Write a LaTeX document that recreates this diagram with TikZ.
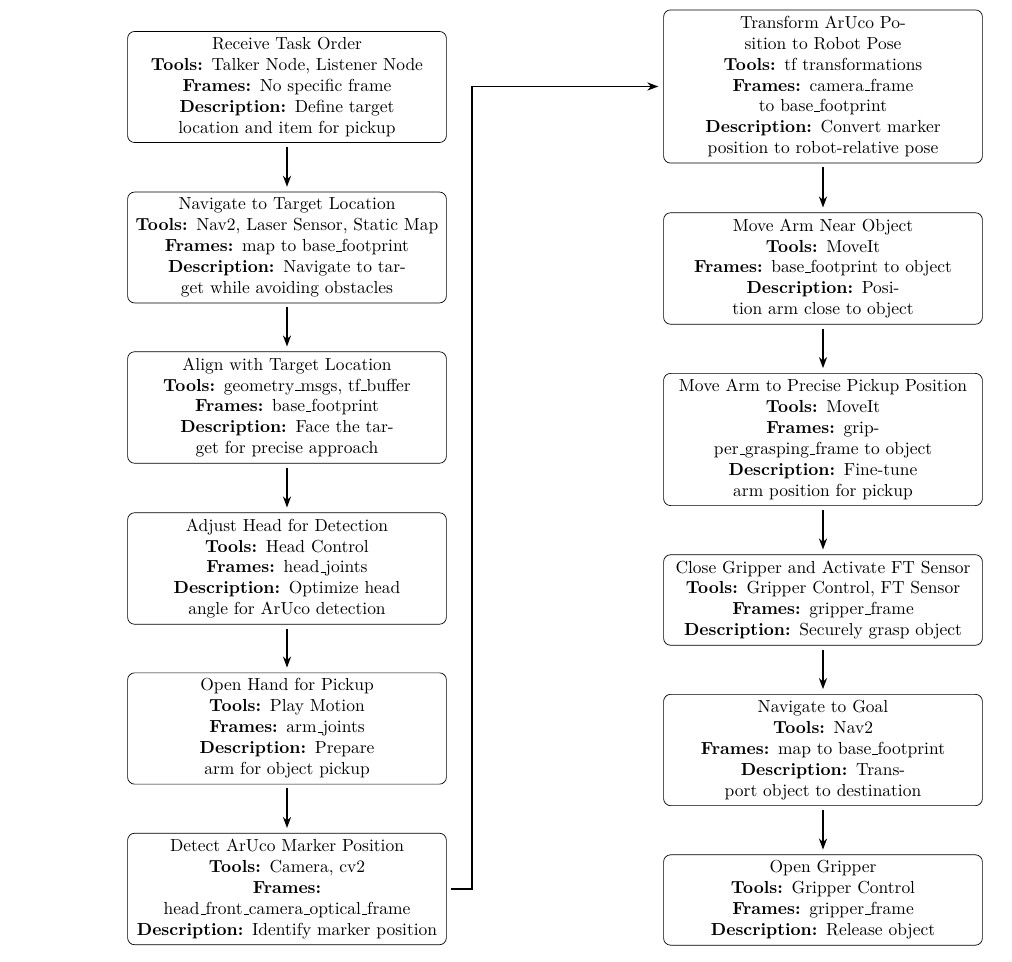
\documentclass[tikz,border=0pt]{standalone}
\usetikzlibrary{arrows.meta}
% classic low-rule underscore as in OT1 text
\newcommand{\usc}{\leavevmode\kern.06em\vbox{\hrule width.3em}}
\begin{document}
\begin{tikzpicture}[x=0.573pt,y=-0.573pt,
  stepbox/.style={draw, rounded corners, text width=176pt, align=center, inner sep=3.33pt},
  flow/.style={-{Stealth[length=6.3pt,width=4.6pt,inset=2pt]}, line width=1.1pt,
    shorten <=2.3pt, shorten >=2.8pt}]
\useasboundingbox (0,0) rectangle (1012,962);

% left column
\node[stepbox] (l1) at (287,87) {Receive Task Order\\
  \textbf{Tools:} Talker Node, Listener Node\\
  \textbf{Frames:} No specific frame\\
  \textbf{Description:} Define target\\
  location and item for pickup};
\node[stepbox] (l2) at (287,247.5) {Navigate to Target Location\\
  \textbf{Tools:} Nav2, Laser Sensor, Static Map\\
  \textbf{Frames:} map to base\usc footprint\\
  \textbf{Description:} Navigate to tar-\\
  get while avoiding obstacles};
\node[stepbox] (l3) at (287,407.5) {Align with Target Location\\
  \textbf{Tools:} geometry\usc msgs, tf\usc buffer\\
  \textbf{Frames:} base\usc footprint\\
  \textbf{Description:} Face the tar-\\
  get for precise approach};
\node[stepbox] (l4) at (287,568.5) {Adjust Head for Detection\\
  \textbf{Tools:} Head Control\\
  \textbf{Frames:} head\usc joints\\
  \textbf{Description:} Optimize head\\
  angle for ArUco detection};
\node[stepbox] (l5) at (287,728.5) {Open Hand for Pickup\\
  \textbf{Tools:} Play Motion\\
  \textbf{Frames:} arm\usc joints\\
  \textbf{Description:} Prepare\\
  arm for object pickup};
\node[stepbox] (l6) at (287,889) {Detect ArUco Marker Position\\
  \textbf{Tools:} Camera, cv2\\
  \textbf{Frames:}\\
  head\usc front\usc camera\usc optical\usc frame\\
  \textbf{Description:} Identify marker position};

% right column
\node[stepbox] (r1) at (823,86.5) {Transform ArUco Po-\\
  sition to Robot Pose\\
  \textbf{Tools:} tf transformations\\
  \textbf{Frames:} camera\usc frame\\
  to base\usc footprint\\
  \textbf{Description:} Convert marker\\
  position to robot-relative pose};
\node[stepbox] (r2) at (823,268.5) {Move Arm Near Object\\
  \textbf{Tools:} MoveIt\\
  \textbf{Frames:} base\usc footprint to object\\
  \textbf{Description:} Posi-\\
  tion arm close to object};
\node[stepbox] (r3) at (823,439.5) {Move Arm to Precise Pickup Position\\
  \textbf{Tools:} MoveIt\\
  \textbf{Frames:} grip-\\
  per\usc grasping\usc frame to object\\
  \textbf{Description:} Fine-tune\\
  arm position for pickup};
\node[stepbox] (r4) at (823,600) {Close Gripper and Activate FT Sensor\\
  \textbf{Tools:} Gripper Control, FT Sensor\\
  \textbf{Frames:} gripper\usc frame\\
  \textbf{Description:} Securely grasp object};
\node[stepbox] (r5) at (823,750) {Navigate to Goal\\
  \textbf{Tools:} Nav2\\
  \textbf{Frames:} map to base\usc footprint\\
  \textbf{Description:} Trans-\\
  port object to destination};
\node[stepbox] (r6) at (823,900) {Open Gripper\\
  \textbf{Tools:} Gripper Control\\
  \textbf{Frames:} gripper\usc frame\\
  \textbf{Description:} Release object};

% connectors
\draw[flow] (l1) -- (l2);
\draw[flow] (l2) -- (l3);
\draw[flow] (l3) -- (l4);
\draw[flow] (l4) -- (l5);
\draw[flow] (l5) -- (l6);
\draw[flow] (l6.east) -- ++(25,0) |- (r1.west);
\draw[flow] (r1) -- (r2);
\draw[flow] (r2) -- (r3);
\draw[flow] (r3) -- (r4);
\draw[flow] (r4) -- (r5);
\draw[flow] (r5) -- (r6);
\end{tikzpicture}
\end{document}
